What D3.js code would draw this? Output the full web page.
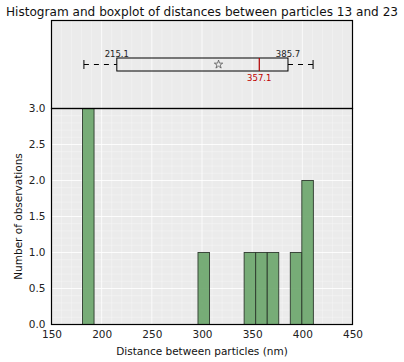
<!DOCTYPE html>
<head>
  <meta charset="UTF-8">
  <title>Histogram</title>
  <style>
    body { margin: 0; background: #fff; }
    text { font-family: "DejaVu Sans", sans-serif; }
  </style>
</head>
<body>
<script src="https://d3js.org/d3.v7.min.js"></script>
<script>
// histogram bins (nm) and counts
let binStarts = [180.9, 296.0, 342.0, 353.5, 365.0, 388.0, 399.5];
let binWidth = 11.5;
let counts = [3, 1, 1, 1, 1, 1, 2];
// boxplot stats
let whiskerLow = 182.3;
let q1 = 215.1;
let median = 357.1;
let q3 = 385.7;
let whiskerHigh = 410.7;
let mean = 316.5;
let xTicks = [150, 200, 250, 300, 350, 400, 450];
let yTicks = [0, 0.5, 1.0, 1.5, 2.0, 2.5, 3.0];

let width = 404, height = 362;
let pLeft = 51.5, pRight = 352.5, pTop = 20.5, pMid = 108.5, pBottom = 324.5;

let svg = d3.select('body').append('svg')
  .attr('width', width).attr('height', height);

let x = d3.scaleLinear().domain([150, 450]).range([pLeft, pRight]);
let y = d3.scaleLinear().domain([0, 3]).range([pBottom, pMid]);

// background
svg.append('rect').attr('x', pLeft).attr('y', pTop)
  .attr('width', pRight - pLeft).attr('height', pBottom - pTop)
  .attr('fill', '#ebebeb');

// grid
let minorX = d3.range(150, 451, 10);
svg.selectAll('.gx').data(minorX).enter().append('line')
  .attr('x1', d => x(d)).attr('x2', d => x(d))
  .attr('y1', pTop).attr('y2', pBottom)
  .attr('stroke', '#fff').attr('stroke-width', d => d % 50 === 0 ? 1 : 0.6)
  .attr('stroke-opacity', d => d % 50 === 0 ? 0.8 : 0.5);
let minorY = d3.range(0, 3.01, 0.1);
svg.selectAll('.gy').data(minorY).enter().append('line')
  .attr('x1', pLeft).attr('x2', pRight)
  .attr('y1', d => y(d)).attr('y2', d => y(d))
  .attr('stroke', '#fff')
  .attr('stroke-width', (d, i) => i % 5 === 0 ? 1.2 : 0.6)
  .attr('stroke-opacity', (d, i) => i % 5 === 0 ? 0.85 : 0.5);

// bars
svg.selectAll('.bar').data(binStarts).enter().append('rect')
  .attr('x', d => x(d))
  .attr('width', d => x(d + binWidth) - x(d))
  .attr('y', (d, i) => y(counts[i]))
  .attr('height', (d, i) => y(0) - y(counts[i]))
  .attr('fill', '#6da66d').attr('fill-opacity', 0.92)
  .attr('stroke', '#2e3a2e').attr('stroke-width', 0.9);

// frames
svg.append('rect').attr('x', pLeft).attr('y', pTop)
  .attr('width', pRight - pLeft).attr('height', pMid - pTop)
  .attr('fill', 'none').attr('stroke', '#000').attr('stroke-width', 1.2);
svg.append('rect').attr('x', pLeft).attr('y', pMid)
  .attr('width', pRight - pLeft).attr('height', pBottom - pMid)
  .attr('fill', 'none').attr('stroke', '#000').attr('stroke-width', 1.2);

// axes
let xAxis = svg.append('g').attr('transform', `translate(0,${pBottom})`)
  .call(d3.axisBottom(x).tickValues(xTicks).tickSize(0).tickPadding(6).tickFormat(d3.format('d')));
let yAxis = svg.append('g').attr('transform', `translate(${pLeft},0)`)
  .call(d3.axisLeft(y).tickValues(yTicks).tickSize(0).tickPadding(6).tickFormat(d3.format('.1f')));
[xAxis, yAxis].forEach(a => {
  a.select('.domain').remove();
  a.selectAll('text').attr('font-size', 10.5).attr('fill', '#222')
    .attr('font-family', '"DejaVu Sans", sans-serif');
});

// boxplot
let by = 64.5, bh = 13;
svg.append('line').attr('x1', x(whiskerLow)).attr('x2', x(q1))
  .attr('y1', by).attr('y2', by).attr('stroke', '#000').attr('stroke-dasharray', '5,5');
svg.append('line').attr('x1', x(q3)).attr('x2', x(whiskerHigh))
  .attr('y1', by).attr('y2', by).attr('stroke', '#000').attr('stroke-dasharray', '5,5');
[whiskerLow, whiskerHigh].forEach(v => {
  svg.append('line').attr('x1', x(v)).attr('x2', x(v))
    .attr('y1', by - 4.5).attr('y2', by + 4.5).attr('stroke', '#000');
});
svg.append('rect').attr('x', x(q1)).attr('y', by - bh / 2)
  .attr('width', x(q3) - x(q1)).attr('height', bh)
  .attr('fill', 'none').attr('stroke', '#000').attr('stroke-width', 1);
svg.append('line').attr('x1', x(median)).attr('x2', x(median))
  .attr('y1', by - bh / 2).attr('y2', by + bh / 2)
  .attr('stroke', '#b00000').attr('stroke-width', 1.2);
svg.append('path')
  .attr('d', d3.symbol().type(d3.symbolStar).size(22)())
  .attr('transform', `translate(${x(mean)},${by})`)
  .attr('fill', 'none').attr('stroke', '#555').attr('stroke-width', 0.8);

svg.append('text').attr('x', x(q1)).attr('y', by - 8).attr('text-anchor', 'middle')
  .attr('font-size', 8.5).attr('fill', '#222').text(q1.toFixed(1));
svg.append('text').attr('x', x(q3)).attr('y', by - 8).attr('text-anchor', 'middle')
  .attr('font-size', 8.5).attr('fill', '#222').text(q3.toFixed(1));
svg.append('text').attr('x', x(median)).attr('y', by + 16).attr('text-anchor', 'middle')
  .attr('font-size', 8.5).attr('fill', '#c00000').text(median.toFixed(1));

// labels
svg.append('text').attr('x', 202).attr('y', 16).attr('text-anchor', 'middle')
  .attr('font-size', 12.1).attr('fill', '#111')
  .text('Histogram and boxplot of distances between particles 13 and 23');
svg.append('text').attr('x', (pLeft + pRight) / 2).attr('y', 355).attr('text-anchor', 'middle')
  .attr('font-size', 10.5).attr('fill', '#111').text('Distance between particles (nm)');
svg.append('text').attr('transform', `translate(22,${(pMid + pBottom) / 2}) rotate(-90)`)
  .attr('text-anchor', 'middle')
  .attr('font-size', 10.5).attr('fill', '#111').text('Number of observations');
</script>
</body>
</html>
